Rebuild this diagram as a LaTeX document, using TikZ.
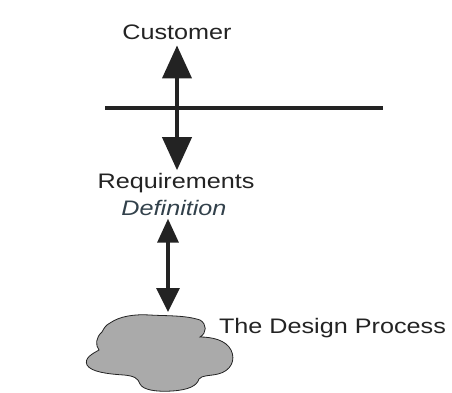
\documentclass[tikz,border=0pt]{standalone}
\usepackage{fontspec}
\setmainfont{Liberation Sans}
\usetikzlibrary{arrows.meta}
\definecolor{ink}{RGB}{35,35,35}
\definecolor{defcol}{RGB}{50,65,75}
\definecolor{cloudfill}{RGB}{170,170,170}
\newcommand{\wide}[1]{\scalebox{1.2}[1]{#1}}
\tikzset{
  lbl/.style={inner sep=0pt, outer sep=0pt, text=ink, font=\fontsize{21}{25}\selectfont},
  bigarrow/.style={draw=ink, line width=4pt, {Triangle[width=29pt,length=33pt]}-{Triangle[width=29pt,length=33pt]}},
  smallarrow/.style={draw=ink, line width=3.5pt, {Triangle[width=21pt,length=24pt]}-{Triangle[width=23pt,length=24pt]}},
  rule/.style={draw=ink, line width=3.5pt}
}
\begin{document}
\begin{tikzpicture}[x=1pt,y=-1pt]
\useasboundingbox (0,0) rectangle (452,393);
\node[lbl] (cust) at (177,32) {\wide{Customer}};
\node[lbl] (req) at (176,183) {\wide{Requirements}};
\node[lbl, text=defcol, font=\fontsize{21}{25}\selectfont\itshape] (defn) at (174,208) {\wide{Definition}};
\node[lbl, anchor=west] (dp) at (219,328) {\wide{The Design Process}};
\coordinate (hl) at (105,108);
\coordinate (hr) at (383,108);
\draw[rule] (hl) -- (hr);
% cloud
\draw[ink, line width=0.8pt, fill=cloudfill]
  (110,323) .. controls (120,316) and (135,314) .. (150,315)
  .. controls (165,316) and (185,315) .. (200,320)
  .. controls (207,324) and (207,333) .. (200,337)
  .. controls (212,337) and (226,340) .. (231,350)
  .. controls (236,360) and (231,371) .. (218,374)
  .. controls (210,376) and (202,375) .. (199,379)
  .. controls (197,386) and (188,390) .. (172,391)
  .. controls (156,392) and (143,390) .. (140,384)
  .. controls (138,378) and (134,376) .. (124,375)
  .. controls (108,374) and (91,372) .. (87,365)
  .. controls (84,358) and (92,354) .. (99,350)
  .. controls (95,345) and (96,337) .. (102,332)
  .. controls (104,328) and (106,325) .. (110,323) -- cycle;
\coordinate (cloudtop) at (168,312);
\coordinate (axis) at (177,0);
\draw[bigarrow] ([yshift=-6pt]cust.south -| axis) -- ([yshift=3pt]req.north -| axis);
\draw[smallarrow] ([yshift=-3pt]defn.south -| cloudtop) -- (cloudtop);
\end{tikzpicture}
\end{document}
